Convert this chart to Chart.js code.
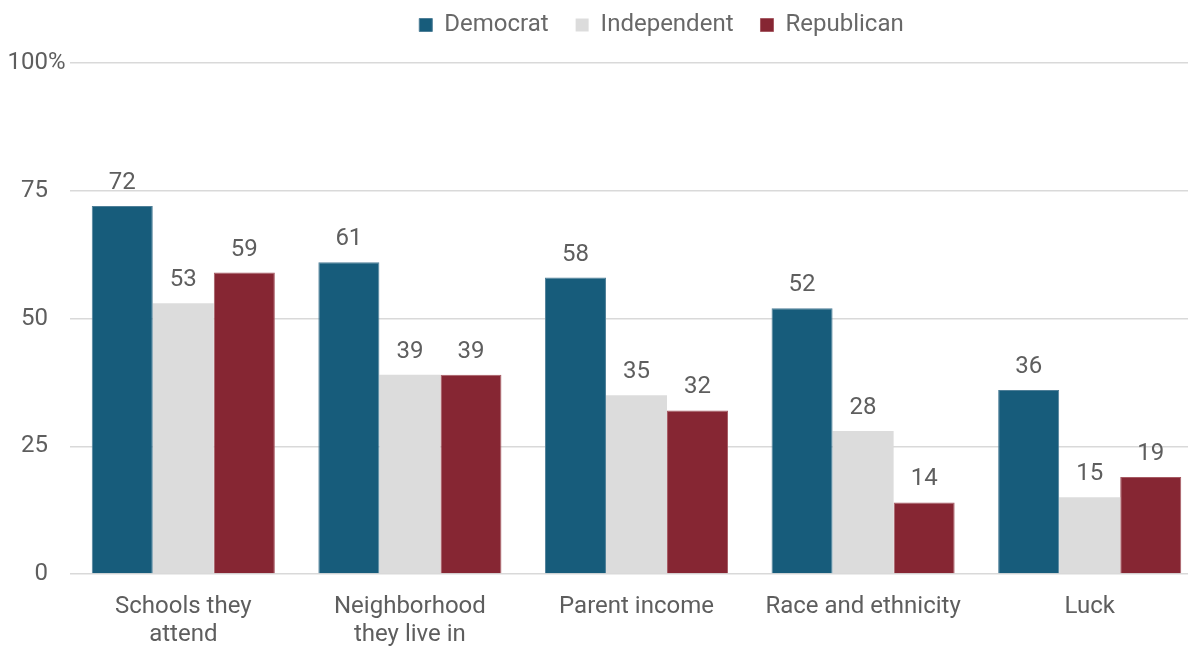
<!DOCTYPE html>
<html>
<head>
<meta charset="utf-8">
<script src="https://cdn.jsdelivr.net/npm/chart.js@4.4.1/dist/chart.umd.min.js"></script>
<style>
  html, body { margin: 0; padding: 0; background: #fff; overflow: hidden; }
  #wrap { width: 1204px; height: 646px; position: relative; }
</style>
</head>
<body>
<div id="wrap"><canvas id="c"></canvas></div>
<script>
const categories = [['Schools they', 'attend'], ['Neighborhood', 'they live in'], 'Parent income', 'Race and ethnicity', 'Luck'];
const seriesNames = ['Democrat', 'Independent', 'Republican'];
const democrat = [72, 61, 58, 52, 36];
const independent = [53, 39, 35, 28, 15];
const republican = [59, 39, 32, 14, 19];
const yTicks = [0, 25, 50, 75, 100];

const colors = ['#175c7b', '#dcdcdc', '#862633'];
const borderColors = ['#4f7f98', '#dcdcdc', '#a65a63'];
const textColor = '#5e5e5e';
const FONT = 'Roboto';
const FS = 24;

const valueLabels = {
  id: 'valueLabels',
  afterDatasetsDraw(chart) {
    const ctx = chart.ctx;
    ctx.save();
    ctx.font = FS + 'px ' + FONT;
    ctx.fillStyle = textColor;
    ctx.textAlign = 'center';
    ctx.textBaseline = 'alphabetic';
    chart.data.datasets.forEach((ds, i) => {
      const meta = chart.getDatasetMeta(i);
      meta.data.forEach((bar, j) => {
        ctx.fillText(String(ds.data[j]), bar.x, bar.y - 17);
      });
    });
    ctx.restore();
  }
};

const percentSuffix = {
  id: 'percentSuffix',
  afterDraw(chart) {
    const y = chart.scales.y;
    const ctx = chart.ctx;
    ctx.save();
    ctx.font = FS + 'px ' + FONT;
    ctx.fillStyle = textColor;
    ctx.textAlign = 'left';
    ctx.textBaseline = 'middle';
    ctx.fillText('%', y.right - y.options.ticks.padding, y.getPixelForValue(100));
    ctx.restore();
  }
};

const legendShift = {
  id: 'legendShift',
  afterLayout(chart) {
    const lg = chart.legend;
    if (!lg) return;
    lg.left += 60; lg.right += 60;
    const cur = lg.top + lg.options.labels.padding + FS / 2;
    const dy = 25 - cur;
    lg.top += dy; lg.bottom += dy;
  }
};

new Chart(document.getElementById('c'), {
  type: 'bar',
  data: {
    labels: categories,
    datasets: [
      { label: seriesNames[0], data: democrat, backgroundColor: colors[0], borderColor: borderColors[0], borderWidth: 1 },
      { label: seriesNames[1], data: independent, backgroundColor: colors[1], borderColor: borderColors[1], borderWidth: 0 },
      { label: seriesNames[2], data: republican, backgroundColor: colors[2], borderColor: borderColors[2], borderWidth: 1 }
    ]
  },
  plugins: [valueLabels, percentSuffix, legendShift],
  options: {
    responsive: true,
    maintainAspectRatio: false,
    animation: false,
    layout: { padding: { top: 2, right: 1, left: 0, bottom: 0 } },
    datasets: { bar: { categoryPercentage: 0.808, barPercentage: 1.0 } },
    plugins: {
      legend: {
        position: 'top',
        labels: {
          boxWidth: 13, boxHeight: 13, padding: 27,
          color: '#686868',
          font: { family: FONT, size: FS }
        }
      },
      tooltip: { enabled: false }
    },
    scales: {
      x: {
        afterFit(scale) { scale.height = 72; },
        grid: { display: false, drawTicks: false },
        border: { display: false },
        ticks: {
          color: textColor,
          font: { family: FONT, size: FS, lineHeight: 1.17 },
          padding: 19,
          maxRotation: 0, autoSkip: false
        }
      },
      y: {
        min: 0, max: 100,
        afterBuildTicks(scale) { scale.ticks = yTicks.map(v => ({ value: v })); },
        afterFit(scale) { scale.width = 70; },
        grid: { color: '#d9d9d9', lineWidth: 1.5, drawTicks: false },
        border: { display: false },
        ticks: {
          color: textColor,
          font: { family: FONT, size: FS },
          padding: 22,
          callback: (v) => String(v)
        }
      }
    }
  }
});
</script>
</body>
</html>
